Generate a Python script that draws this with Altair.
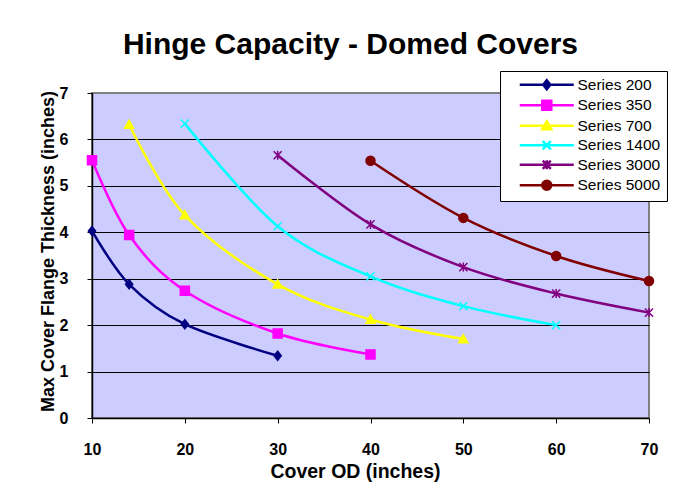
import altair as alt
import pandas as pd

# ---------------- data ----------------
series_names = ["Series 200", "Series 350", "Series 700", "Series 1400", "Series 3000", "Series 5000"]
series_colors = ["#000080", "#FF00FF", "#FFFF00", "#00FFFF", "#800080", "#800000"]

s200_x = [10, 14, 20, 30]
s200_y = [4.03, 2.88, 2.02, 1.34]
s350_x = [10, 14, 20, 30, 40]
s350_y = [5.55, 3.94, 2.74, 1.82, 1.37]
s700_x = [14, 20, 30, 40, 50]
s700_y = [6.32, 4.37, 2.88, 2.12, 1.70]
s1400_x = [20, 30, 40, 50, 60]
s1400_y = [6.34, 4.13, 3.05, 2.41, 2.00]
s3000_x = [30, 40, 50, 60, 70]
s3000_y = [5.66, 4.17, 3.25, 2.68, 2.27]
s5000_x = [40, 50, 60, 70]
s5000_y = [5.54, 4.31, 3.49, 2.95]

x_ticks = [10, 20, 30, 40, 50, 60, 70]
y_ticks = [0, 1, 2, 3, 4, 5, 6, 7]

# ---------------- styles ----------------
marker_paths = [
    "M0,-1L0.8,0L0,1L-0.8,0Z",                      # diamond
    "M-1,-1H1V1H-1Z",                                # square
    "M0,-1L1,0.8L-1,0.8Z",                           # triangle
    "M-0.9,-0.9L0.9,0.9M-0.9,0.9L0.9,-0.9",          # x
    "M-0.9,-0.9L0.9,0.9M-0.9,0.9L0.9,-0.9M0,-1V1",   # asterisk
    "M1,0A1,1,0,1,1,-1,0A1,1,0,1,1,1,0Z",            # circle
]
legend_paths = ["M-6,0H6" + p for p in marker_paths]

FONT = "Liberation Sans"

xs = [s200_x, s350_x, s700_x, s1400_x, s3000_x, s5000_x]
ys = [s200_y, s350_y, s700_y, s1400_y, s3000_y, s5000_y]
rows = []
for name, mk, sx, sy in zip(series_names, marker_paths, xs, ys):
    for a, b in zip(sx, sy):
        rows.append({"series": name, "marker": mk, "x": a, "y": b})
df = pd.DataFrame(rows)

color_scale = alt.Scale(domain=series_names, range=series_colors)

x_enc = alt.X(
    "x:Q",
    scale=alt.Scale(domain=[10, 70], nice=False, zero=False),
    axis=alt.Axis(
        values=x_ticks, title="Cover OD (inches)", grid=False,
        domainColor="black", domainWidth=1.5, tickColor="black", tickSize=5,
        labelFont=FONT, labelFontSize=16, labelFontWeight="bold", labelColor="black",
        labelPadding=18, labelFlush=False, labelOverlap=False,
        titleFont=FONT, titleFontSize=19.5, titleFontWeight="bold", titleColor="black",
        titleX=263, titleY=59.5, titleAlign="center", titleBaseline="alphabetic",
    ),
)
y_enc = alt.Y(
    "y:Q",
    scale=alt.Scale(domain=[0, 7], nice=False, zero=True),
    axis=alt.Axis(
        values=y_ticks, title="Max Cover Flange Thickness (inches)", grid=True,
        gridColor="black", gridWidth=1,
        gridOpacity={"condition": {"test": "datum.value == 0 || datum.value == 7", "value": 0}, "value": 1},
        domainColor="black", domainWidth=1.5, tickColor="black", tickSize=5,
        labelFont=FONT, labelFontSize=16, labelFontWeight="bold", labelColor="black",
        labelPadding=19, labelFlush=False, labelOverlap=False,
        titleFont=FONT, titleFontSize=18, titleFontWeight="bold", titleColor="black",
        titleX=-39, titleY=158, titleAlign="center", titleBaseline="alphabetic", titleAngle=270,
    ),
)

leg = alt.Legend(
    title=None, orient="none", legendX=408, legendY=-22, padding=6,
    fillColor="white", strokeColor="black",
    symbolSize=81, symbolStrokeWidth=2.5, symbolOffset=33, symbolOpacity=1,
    labelOffset=23, labelFont=FONT, labelFontSize=15.5, labelColor="black",
    rowPadding=0.5,
)

base = alt.Chart(df)

lines = base.mark_line(interpolate="cardinal", strokeWidth=2.5).encode(
    x=x_enc, y=y_enc,
    stroke=alt.Stroke("series:N", scale=color_scale, legend=None),
)

points = base.mark_point(filled=True, size=81, strokeWidth=1.5, opacity=1).encode(
    x=x_enc, y=y_enc,
    fill=alt.Fill("series:N", scale=color_scale, legend=None),
    stroke=alt.Stroke("series:N", scale=color_scale, legend=None),
    shape=alt.Shape("marker:N", scale=None),
)

legend_layer = base.transform_filter("datum.y < 0").mark_point(
    filled=True, size=81, strokeWidth=2.5, opacity=1
).encode(
    x=x_enc, y=y_enc,
    fill=alt.Fill("series:N", scale=color_scale, legend=leg),
    stroke=alt.Stroke("series:N", scale=color_scale, legend=leg),
    shape=alt.Shape("series:N", scale=alt.Scale(domain=series_names, range=legend_paths), legend=leg),
)

chart = alt.layer(lines, points, legend_layer).resolve_scale(
    fill="independent", stroke="independent", shape="independent"
).resolve_legend(
    fill="independent", stroke="independent", shape="independent"
).properties(
    width=557, height=325,
    autosize=alt.AutoSizeParams(type="none"),
    padding={"left": 84, "top": 85, "right": 32, "bottom": 72},
    background="white",
    title=alt.TitleParams(
        "Hinge Capacity - Domed Covers", font=FONT, fontSize=30, fontWeight="bold",
        color="black", anchor="middle", dx=-20, dy=17, baseline="alphabetic",
    ),
).configure_view(fill="#CCCCFF", stroke="#808080", strokeWidth=2)

chart.save("out.html", embed_options={"renderer": "svg", "actions": False})
